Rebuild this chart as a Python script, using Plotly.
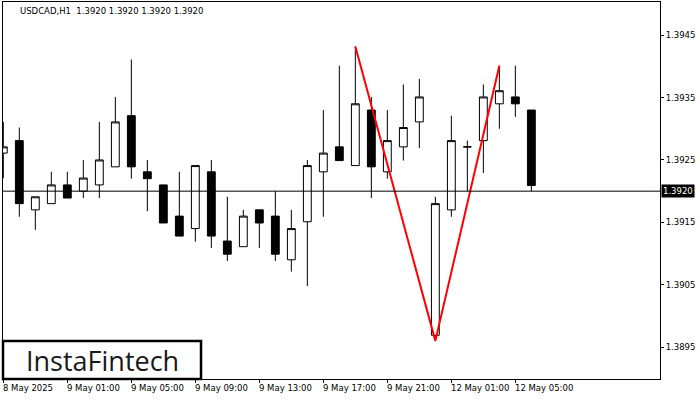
import plotly.graph_objects as go

# ---- data ----
idx = list(range(34))
opens = [1.39261, 1.39281, 1.39170, 1.39180, 1.39210, 1.39200, 1.39210, 1.39239, 1.39321, 1.39231,
         1.39210, 1.39160, 1.39140, 1.39231, 1.39120, 1.39111, 1.39170, 1.39160, 1.39090, 1.39151,
         1.39231, 1.39271, 1.39241, 1.39330, 1.39231, 1.39271, 1.39311, 1.38969, 1.39170, 1.39271,
         1.39281, 1.39340, 1.39351, 1.39330]
highs = [1.39311, 1.39302, 1.39191, 1.39231, 1.39231, 1.39250, 1.39311, 1.39351, 1.39411, 1.39250,
         1.39210, 1.39231, 1.39241, 1.39250, 1.39191, 1.39170, 1.39170, 1.39200, 1.39170, 1.39250,
         1.39330, 1.39401, 1.39432, 1.39351, 1.39330, 1.39371, 1.39380, 1.39191, 1.39321, 1.39281,
         1.39371, 1.39401, 1.39401, 1.39330]
lows = [1.39221, 1.39159, 1.39138, 1.39180, 1.39189, 1.39189, 1.39189, 1.39239, 1.39220, 1.39168,
        1.39149, 1.39128, 1.39119, 1.39109, 1.39088, 1.39111, 1.39109, 1.39088, 1.39071, 1.39048,
        1.39159, 1.39249, 1.39241, 1.39189, 1.39220, 1.39249, 1.39269, 1.38966, 1.39159, 1.39200,
        1.39229, 1.39300, 1.39319, 1.39200]
closes = [1.39271, 1.39180, 1.39191, 1.39210, 1.39189, 1.39221, 1.39250, 1.39311, 1.39239, 1.39220,
          1.39149, 1.39128, 1.39241, 1.39128, 1.39099, 1.39160, 1.39149, 1.39099, 1.39140, 1.39241,
          1.39261, 1.39249, 1.39340, 1.39239, 1.39281, 1.39302, 1.39351, 1.39180, 1.39281, 1.39271,
          1.39351, 1.39361, 1.39340, 1.39209]

pattern_x = [22, 27, 31]
pattern_y = [1.39432, 1.38960, 1.39401]

last_price = 1.3920
y_ticks = [1.3895, 1.3905, 1.3915, 1.3925, 1.3935, 1.3945]
x_tick_pos = [0, 4, 8, 12, 16, 20, 24, 28, 32]
x_tick_labels = ["8 May 2025", "9 May 01:00", "9 May 05:00", "9 May 09:00", "9 May 13:00",
                 "9 May 17:00", "9 May 21:00", "12 May 01:00", "12 May 05:00"]
title_text = "USDCAD,H1  1.3920 1.3920 1.3920 1.3920"
logo_text = "InstaFintech"

FONT = "DejaVu Sans"

fig = go.Figure()
fig.add_trace(go.Candlestick(
    x=idx, open=opens, high=highs, low=lows, close=closes,
    increasing=dict(line=dict(color="black", width=1), fillcolor="white"),
    decreasing=dict(line=dict(color="black", width=1), fillcolor="black"),
    whiskerwidth=0, showlegend=False, hoverinfo="skip"))

fig.add_trace(go.Scatter(x=pattern_x, y=pattern_y, mode="lines",
                         line=dict(color="#ff0000", width=2), showlegend=False, hoverinfo="skip"))

fig.add_hline(y=last_price, line=dict(color="black", width=1))

annotations = []
for pos, lab in zip(x_tick_pos, x_tick_labels):
    annotations.append(dict(x=pos, y=0, xref="x", yref="paper", text=lab, showarrow=False,
                            xanchor="left", yanchor="top", xshift=-2, yshift=-2,
                            font=dict(family=FONT, size=8.5, color="black")))
annotations.append(dict(x=1, y=last_price, xref="paper", yref="y", text="1.3920", showarrow=False,
                        xanchor="left", yanchor="middle", xshift=1, bgcolor="black", borderpad=1,
                        font=dict(family=FONT, size=8.5, color="white")))
annotations.append(dict(x=0.0228, y=0.976, xref="paper", yref="paper", text=title_text,
                        showarrow=False, xanchor="left", yanchor="middle",
                        font=dict(family=FONT, size=8.5, color="black")))
annotations.append(dict(x=0.152, y=0.05, xref="paper", yref="paper", text=logo_text,
                        showarrow=False, xanchor="center", yanchor="middle",
                        font=dict(family="Open Sans", size=27, color="#1a1a1a")))

fig.add_shape(type="rect", xref="paper", yref="paper", x0=0, x1=0.3014, y0=0, y1=0.1008,
              line=dict(color="black", width=2.5), fillcolor="white", layer="above")

fig.update_layout(
    width=700, height=400,
    margin=dict(l=3, r=40, t=2, b=21),
    paper_bgcolor="white", plot_bgcolor="white",
    annotations=annotations,
    xaxis=dict(range=[-0.02, 41.04], showgrid=False, zeroline=False, rangeslider=dict(visible=False),
               tickvals=x_tick_pos, showticklabels=False, ticks="outside", ticklen=3,
               tickcolor="black", showline=True, linecolor="black", linewidth=1, mirror=True),
    yaxis=dict(range=[1.388989, 1.395032], side="right", showgrid=False, zeroline=False,
               tickvals=y_ticks, tickformat=".4f", ticks="outside", ticklen=3, tickcolor="black",
               showline=True, linecolor="black", linewidth=1, mirror=True,
               tickfont=dict(family=FONT, size=8.5, color="black")),
)

fig.write_html("out.html", config={"displayModeBar": False},
               post_script="document.body.style.margin='0';document.body.style.overflow='hidden';")
